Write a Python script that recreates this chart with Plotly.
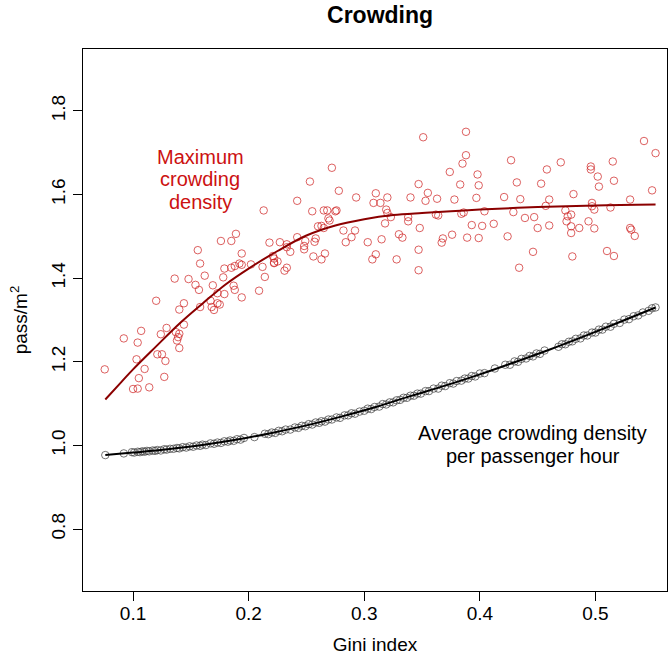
import plotly.graph_objects as go

# ---- data ----
max_x = [0.0755,0.092,0.104,0.107,0.103,0.110,0.105,0.100,0.104,0.114,0.127,0.128,0.121,0.125,0.124,0.129,0.120,
         0.137,0.140,0.138,0.140,0.139,0.144,0.140,0.144,0.136,0.148,0.154,0.157,0.158,0.156,0.158,0.162,0.167,0.168,
         0.170,0.173,0.175,0.169,0.173,0.178,0.179,0.179,0.176,0.185,0.189,0.185,0.188,0.192,0.194,0.194,0.187,0.188,
         0.194,0.202,0.209,0.212,0.214,0.213,0.218,0.222,0.222,
         0.221,0.222,0.225,0.231,0.233,0.227,0.233,0.233,0.236,0.242,0.242,0.248,0.248,0.249,0.253,0.255,0.256,0.257,
         0.258,0.260,0.263,0.265,0.263,0.266,0.265,0.268,0.269,0.270,0.272,0.275,0.276,0.278,0.282,0.284,0.289,0.292,
         0.293,0.303,0.307,0.310,0.308,0.310,0.314,0.315,0.318,0.319,0.320,0.320,0.323,0.328,0.330,0.333,0.338,0.338,
         0.340,0.347,0.347,0.347,0.348,0.351,0.353,0.355,0.362,0.364,0.363,0.367,0.368,0.374,0.376,0.378,0.383,0.384,
         0.386,0.385,0.388,0.388,0.389,
         0.398,0.399,0.397,0.404,0.393,0.402,0.399,0.412,0.421,0.424,0.427,0.429,0.432,0.435,0.434,0.439,0.446,0.447,
         0.450,0.453,0.457,0.458,0.460,0.460,0.470,0.474,0.475,0.476,0.479,0.481,0.479,0.479,0.480,0.486,0.494,0.496,
         0.496,0.497,0.497,0.499,0.499,0.502,0.503,0.510,0.513,0.515,0.516,0.516,0.530,0.531,0.534,0.530,0.542,0.552,
         0.549]
max_y = [1.182,1.256,1.246,1.274,1.206,1.183,1.161,1.135,1.136,1.139,1.164,1.202,1.218,1.218,1.266,1.281,1.346,
         1.271,1.267,1.251,1.233,1.259,1.289,1.325,1.340,1.399,1.398,1.384,1.372,1.331,1.467,1.435,1.406,1.346,1.331,
         1.324,1.340,1.337,1.383,1.364,1.402,1.423,1.362,1.489,1.489,1.506,1.425,1.429,1.435,1.432,1.459,1.382,1.372,
         1.354,1.433,1.370,1.427,1.403,1.562,1.485,1.437,1.447,
         1.453,1.436,1.440,1.418,1.425,1.486,1.481,1.474,1.463,1.498,1.585,1.477,1.469,1.489,1.631,1.560,1.452,1.487,
         1.495,1.524,1.525,1.520,1.445,1.459,1.562,1.562,1.543,1.538,1.664,1.560,1.562,1.609,1.514,1.486,1.498,1.514,
         1.593,1.486,1.445,1.457,1.580,1.603,1.580,1.493,1.531,1.564,1.556,1.593,1.546,1.445,1.505,1.497,1.546,1.536,
         1.593,1.468,1.419,1.625,1.520,1.737,1.585,1.604,1.552,1.550,1.590,1.485,1.495,1.654,1.504,1.588,1.624,1.554,
         1.557,1.674,1.694,1.750,1.497,
         1.648,1.622,1.592,1.560,1.527,1.525,1.496,1.530,1.594,1.500,1.682,1.558,1.629,1.589,1.425,1.544,1.463,1.546,
         1.520,1.626,1.573,1.660,1.588,1.526,1.677,1.562,1.536,1.548,1.552,1.601,1.524,1.508,1.452,1.520,1.536,1.667,
         1.660,1.580,1.572,1.564,1.519,1.643,1.619,1.465,1.569,1.679,1.633,1.453,1.520,1.516,1.501,1.588,1.728,1.699,
         1.610]

max_fit_x = [0.076,0.09,0.10,0.12,0.14,0.16,0.18,0.20,0.225,0.25,0.275,0.30,0.325,0.35,0.375,0.40,0.45,0.50,0.552]
max_fit_y = [1.110,1.152,1.182,1.237,1.291,1.339,1.385,1.423,1.465,1.502,1.526,1.541,1.551,1.556,1.560,1.564,1.570,1.574,1.576]

avg_x = [0.076,0.092,0.099,0.101,0.104,0.106,0.108,0.110,0.112,0.114,0.117,0.119,0.121,0.124,0.127,0.129,0.132,0.135,
         0.138,0.140,0.143,0.146,0.149,0.152,0.155,0.158,0.160,0.163,0.167,0.170,0.173,0.176,0.179,0.182,0.184,0.187,
         0.190,0.193,0.196,0.205,0.214,0.217,0.220,0.223,0.226,0.229,0.232,0.236,0.240,0.243,0.246,0.249,0.252,0.255,
         0.258,0.261,0.263,0.266,0.269,0.272,0.276,0.279,0.283,0.286,0.289,0.292,0.296,0.300,0.303,0.306,0.309,0.313,
         0.316,0.319,0.322,0.325,0.328,0.331,0.334,0.337,0.340,0.343,0.346,0.349,0.353,0.356,0.360,0.364,0.367,0.370,
         0.374,0.377,0.380,0.384,0.387,0.390,0.393,0.396,0.400,0.404,0.413,0.422,0.426,0.430,0.433,0.436,0.440,0.443,
         0.446,0.449,0.452,0.456,0.468,0.471,0.474,0.477,0.480,0.483,0.487,0.490,0.493,0.497,0.500,0.503,0.506,0.509,
         0.513,0.516,0.521,0.525,0.529,0.533,0.537,0.541,0.546,0.549,0.552]
avg_y = [0.977,0.981,0.984,0.983,0.985,0.984,0.986,0.985,0.987,0.986,0.988,0.987,0.989,0.988,0.991,0.990,0.992,0.992,
         0.994,0.993,0.996,0.995,0.998,0.997,1.000,0.999,1.002,1.001,1.005,1.004,1.007,1.006,1.010,1.009,1.012,1.011,
         1.015,1.014,1.018,1.020,1.028,1.027,1.031,1.030,1.035,1.034,1.038,1.038,1.043,1.042,1.047,1.046,1.051,1.050,
         1.055,1.054,1.058,1.057,1.062,1.062,1.067,1.066,1.072,1.072,1.077,1.076,1.081,1.083,1.088,1.087,1.092,1.093,
         1.099,1.098,1.103,1.103,1.108,1.109,1.114,1.114,1.119,1.119,1.124,1.124,1.130,1.130,1.136,1.136,1.143,1.142,
         1.149,1.148,1.154,1.155,1.160,1.160,1.166,1.165,1.172,1.173,1.184,1.193,1.193,1.201,1.200,1.207,1.208,1.214,
         1.213,1.220,1.219,1.227,1.236,1.242,1.242,1.248,1.249,1.255,1.256,1.263,1.263,1.270,1.270,1.277,1.277,1.284,
         1.284,1.291,1.293,1.301,1.302,1.309,1.311,1.318,1.322,1.328,1.330]

avg_fit_x = [0.076,0.10,0.13,0.16,0.19,0.22,0.25,0.28,0.31,0.34,0.37,0.40,0.43,0.46,0.49,0.52,0.552]
avg_fit_y = [0.977,0.983,0.991,1.001,1.014,1.030,1.048,1.069,1.092,1.118,1.143,1.170,1.199,1.229,1.261,1.294,1.330]

x_ticks = [0.1, 0.2, 0.3, 0.4, 0.5]
y_ticks = [0.8, 1.0, 1.2, 1.4, 1.6, 1.8]

FONT = "Liberation Sans, Arial, sans-serif"

fig = go.Figure()
fig.add_trace(go.Scatter(x=max_x, y=max_y, mode="markers",
                         marker=dict(symbol="circle-open", size=7.5, color="rgba(205,30,30,0.7)",
                                     line=dict(width=1, color="rgba(205,30,30,0.7)"))))
fig.add_trace(go.Scatter(x=avg_x, y=avg_y, mode="markers",
                         marker=dict(symbol="circle-open", size=7.5, color="rgba(60,60,60,0.7)",
                                     line=dict(width=1, color="rgba(60,60,60,0.7)"))))
fig.add_trace(go.Scatter(x=max_fit_x, y=max_fit_y, mode="lines",
                         line=dict(color="#8B0000", width=2, shape="spline")))
fig.add_trace(go.Scatter(x=avg_fit_x, y=avg_fit_y, mode="lines",
                         line=dict(color="black", width=2, shape="spline")))

ann_red = ["Maximum", "crowding", "density"]
ann_red_y = [1.690, 1.636, 1.581]
ann_blk = ["Average crowding density", "per passenger hour"]
ann_blk_y = [1.031, 0.976]
annotations = []
for t, yy in zip(ann_red, ann_red_y):
    annotations.append(dict(x=0.158, y=yy, text=t, showarrow=False, xanchor="center", yanchor="middle",
                            font=dict(family=FONT, size=20, color="#CC1111")))
for t, yy in zip(ann_blk, ann_blk_y):
    annotations.append(dict(x=0.4456, y=yy, text=t, showarrow=False, xanchor="center", yanchor="middle",
                            font=dict(family=FONT, size=20, color="black")))

fig.update_layout(
    width=668, height=663,
    margin=dict(l=83, r=1, t=49, b=72),
    paper_bgcolor="white", plot_bgcolor="white",
    showlegend=False,
    font=dict(family=FONT, size=19, color="black"),
    title=dict(text="<b>Crowding</b>", x=0.569, xanchor="center", y=1 - 15 / 663, yanchor="middle",
               font=dict(family=FONT, size=23, color="black")),
    annotations=annotations,
)
fig.update_xaxes(range=[0.0567, 0.5619], tickvals=x_ticks, ticktext=[str(v) for v in x_ticks],
                 showgrid=False, zeroline=False, showline=True, linecolor="black", linewidth=1, mirror=True,
                 ticks="outside", ticklen=9, tickcolor="black", tickwidth=1,
                 tickfont=dict(family=FONT, size=19), ticklabelstandoff=-4,
                 title=dict(text="Gini index", font=dict(family=FONT, size=19), standoff=14))
fig.update_yaxes(range=[0.652, 1.948], tickvals=y_ticks, ticktext=["%.1f" % v for v in y_ticks],
                 showgrid=False, zeroline=False, showline=True, linecolor="black", linewidth=1, mirror=True,
                 ticks="outside", ticklen=9, tickcolor="black", tickwidth=1, tickangle=-90,
                 tickfont=dict(family=FONT, size=19),
                 title=dict(text="pass/m<sup>2</sup>", font=dict(family=FONT, size=19), standoff=15))

fig.write_html("out.html", config={"displayModeBar": False},
               post_script="document.body.style.margin='0';document.body.style.overflow='hidden';")
